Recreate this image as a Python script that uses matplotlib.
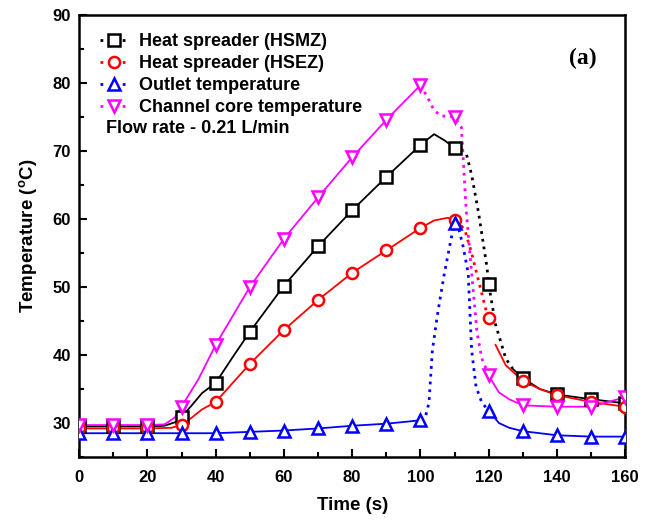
import matplotlib
matplotlib.use("Agg")
import matplotlib.pyplot as plt
from matplotlib.lines import Line2D
from matplotlib.ticker import MultipleLocator

plt.rcParams['font.family'] = ['Liberation Sans', 'DejaVu Sans']

###donnees : marqueurs toutes les 10 s###
t_mark = [0, 10, 20, 30, 40, 50, 60, 70, 80, 90, 100, 110, 120, 130, 140, 150, 160]
hsmz_mark = [29.5, 29.5, 29.5, 30.9, 35.9, 43.4, 50.2, 56.0, 61.3, 66.2, 70.9, 70.5, 50.4, 36.6, 34.2, 33.5, 32.9]
hsez_mark = [29.2, 29.2, 29.2, 29.7, 33.1, 38.7, 43.7, 48.1, 52.1, 55.4, 58.7, 59.8, 45.4, 36.2, 34.1, 33.1, 32.4]
outlet_mark = [28.5, 28.5, 28.5, 28.5, 28.5, 28.7, 28.9, 29.2, 29.6, 29.9, 30.4, 59.4, 31.8, 28.8, 28.2, 28.0, 28.0]
core_mark = [29.7, 29.7, 29.7, 32.4, 41.5, 50.0, 57.1, 63.2, 69.1, 74.6, 79.7, 75.0, 37.0, 32.6, 32.4, 32.4, 33.8]

###donnees : traces des courbes###
hsmz_t = [0, 10, 20, 25, 28, 30, 33, 36, 40, 45, 50, 60, 70, 80, 90, 100, 104, 107, 110, 112, 113.5, 115, 117, 119.5, 120, 122, 125, 127, 130, 135, 140, 150, 160]
hsmz_y = [29.5, 29.5, 29.5, 29.6, 30.1, 30.9, 32.6, 34.4, 35.9, 39.7, 43.4, 50.2, 56.0, 61.3, 66.2, 70.9, 72.5, 71.6, 70.5, 70.3, 69.5, 66.5, 61.0, 52.9, 50.4, 44.5, 39.5, 38.0, 36.6, 35.0, 34.2, 33.5, 32.9]
hsmz_dot = (112, 127)

hsez_t = [0, 10, 20, 27, 30, 33, 36, 40, 45, 50, 60, 70, 80, 90, 100, 104, 108, 110, 112, 113, 115, 117.5, 119.8, 122, 125, 130, 135, 140, 150, 160]
hsez_y = [29.2, 29.2, 29.2, 29.3, 29.7, 30.8, 32.0, 33.1, 35.9, 38.7, 43.7, 48.1, 52.1, 55.4, 58.7, 59.8, 60.2, 59.8, 59.0, 58.4, 55.0, 50.0, 45.4, 41.5, 38.5, 36.2, 35.0, 34.1, 33.1, 32.4]
hsez_dot = (112, 120)

outlet_t = [0, 10, 20, 30, 40, 50, 60, 70, 80, 90, 100, 101.5, 102.5, 103.5, 105, 107, 109.3, 110, 111, 112.5, 114, 115, 116.3, 118, 120, 123, 126, 130, 140, 150, 160]
outlet_y = [28.5, 28.5, 28.5, 28.5, 28.5, 28.7, 28.9, 29.2, 29.6, 29.9, 30.4, 31.0, 33.0, 40.7, 46.0, 52.0, 57.9, 59.4, 59.0, 56.0, 52.0, 40.7, 35.3, 33.0, 31.8, 30.0, 29.3, 28.8, 28.2, 28.0, 28.0]
outlet_dot = (100, 120)

core_t = [0, 10, 20, 25, 28, 30, 35, 40, 50, 60, 70, 80, 90, 100, 102, 104, 106, 110, 112, 113.4, 115, 116.6, 118, 120, 123, 126, 130, 140, 150, 160]
core_y = [29.7, 29.7, 29.7, 29.8, 30.8, 32.4, 36.5, 41.5, 50.0, 57.1, 63.2, 69.1, 74.6, 79.7, 78.0, 76.0, 75.2, 75.0, 73.5, 61.3, 52.0, 43.2, 39.5, 37.0, 34.5, 33.5, 32.6, 32.4, 32.4, 33.8]
core_dot = (100, 120)

series = [
    ("Heat spreader (HSMZ)", hsmz_t, hsmz_y, hsmz_dot, hsmz_mark, "black", "s"),
    ("Heat spreader (HSEZ)", hsez_t, hsez_y, hsez_dot, hsez_mark, "red", "o"),
    ("Outlet temperature", outlet_t, outlet_y, outlet_dot, outlet_mark, "blue", "^"),
    ("Channel core temperature", core_t, core_y, core_dot, core_mark, "magenta", "v"),
]

fig = plt.figure(figsize=(6.54, 5.25), dpi=100)
ax = fig.add_axes([0.121, 0.1295, 0.835, 0.8415])

handles = []
for nom, tt, yy, (d0, d1), ym, coul, mk in series:
    ###partie pleine avant, pointillee au milieu, pleine apres###
    avant = [(a, b) for a, b in zip(tt, yy) if a <= d0]
    milieu = [(a, b) for a, b in zip(tt, yy) if d0 <= a <= d1]
    apres = [(a, b) for a, b in zip(tt, yy) if a >= d1]
    for morceau, style, lw in [(avant, "-", 1.3), (milieu, (0, (1, 1.8)), 2.0), (apres, "-", 1.3)]:
        if len(morceau) > 1:
            ax.plot([p[0] for p in morceau], [p[1] for p in morceau], linestyle=style, linewidth=lw, color=coul, zorder=2)
    ax.plot(t_mark, ym, linestyle="none", marker=mk, markersize=8, markerfacecolor="white",
            markeredgecolor=coul, markeredgewidth=1.8, zorder=3)
    handles.append(Line2D([0], [0], color=coul, linestyle=(0, (1, 3)), linewidth=2, marker=mk, markersize=8,
                          markerfacecolor="white", markeredgecolor=coul, markeredgewidth=1.8, label=nom))

ax.set_xlim(0, 160)
ax.set_ylim(25, 90)
ax.xaxis.set_major_locator(MultipleLocator(20))
ax.xaxis.set_minor_locator(MultipleLocator(10))
ax.yaxis.set_major_locator(MultipleLocator(10))
ax.yaxis.set_minor_locator(MultipleLocator(5))
ax.set_yticks([30, 40, 50, 60, 70, 80, 90])
ax.tick_params(which="major", direction="in", length=6, width=1.5, labelsize=12)
ax.tick_params(axis="x", which="major", pad=9)
ax.tick_params(axis="y", which="major", pad=6)
ax.tick_params(which="minor", direction="in", length=3.5, width=1.5)
for lab in ax.get_xticklabels() + ax.get_yticklabels():
    lab.set_fontweight("bold")
for sp in ax.spines.values():
    sp.set_linewidth(1.8)

ax.set_xlabel("Time (s)", fontsize=13.5, fontweight="bold", labelpad=9)
ax.set_ylabel("Temperature ($\\mathregular{^o}$C)", fontsize=13.5, fontweight="bold", labelpad=10)

ax.legend(handles=handles, loc="upper left", bbox_to_anchor=(0.018, 0.984), frameon=False,
          prop={"size": 13, "weight": "bold"},
          handlelength=1.6, handletextpad=0.55, labelspacing=0.28, borderaxespad=0.2)

ax.text(0.05, 0.744, "Flow rate - 0.21 L/min", transform=ax.transAxes, fontsize=13, fontweight="bold",
        va="center", ha="left")
ax.text(0.923, 0.903, "(a)", transform=ax.transAxes, fontsize=17, fontweight="bold", va="center", ha="center",
        family=["Liberation Serif", "DejaVu Serif"])

fig.savefig("out.png", dpi=100)
